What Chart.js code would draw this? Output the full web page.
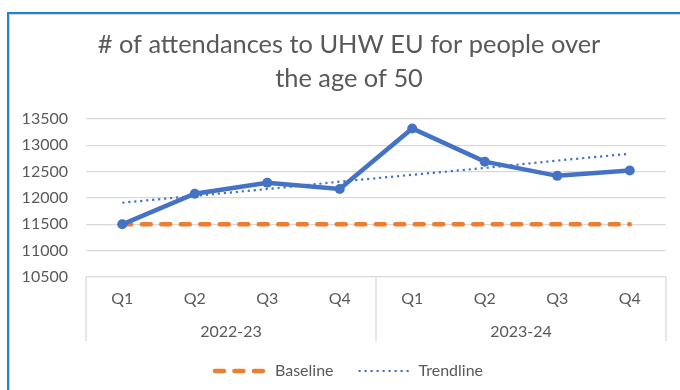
<!DOCTYPE html>
<html>
<head>
<meta charset="utf-8">
<script src="https://cdn.jsdelivr.net/npm/chart.js@4/dist/chart.umd.min.js"></script>
<style>
  html, body { margin: 0; padding: 0; background: #fff; width: 680px; height: 390px; overflow: hidden; }
  #frame { position: absolute; left: 7px; top: 12px; width: 720px; height: 420px;
           border-left: 2px solid #1b84d3; border-top: 2px solid #1b84d3; }
  #inner { position: absolute; left: 0; top: 0; right: 0; bottom: 0;
           border-left: 1px solid #d9d9d9; border-top: 1px solid #d9d9d9; }
  #c { position: absolute; left: 0; top: 0; }
</style>
</head>
<body>
<div id="frame"><div id="inner"></div></div>
<canvas id="c" width="698" height="390"></canvas>
<script>
// values
const quarters = ["Q1", "Q2", "Q3", "Q4", "Q1", "Q2", "Q3", "Q4"];
const years = ["2022-23", "2023-24"];
const attendances = [11500, 12080, 12290, 12170, 13320, 12690, 12420, 12520];
const baseline = [11500, 11500, 11500, 11500, 11500, 11500, 11500, 11500];
const trendline = [11910, 12040, 12170, 12310, 12440, 12570, 12710, 12840];
const yMin = 10500, yMax = 13500, yStep = 500;

const TEXT = "#595959";
const GRID = "#d9d9d9";
const FONT = "Lato";

// vertical separators between the year groups, under the plot
const groupLines = {
  id: "groupLines",
  afterDraw(chart) {
    const x = chart.scales.x, x2 = chart.scales.x2, ctx = chart.ctx;
    const per = quarters.length / years.length;
    const xs = [x.left, x.right];
    for (let g = 1; g < years.length; g++) {
      xs.push((x.getPixelForValue(g * per - 1) + x.getPixelForValue(g * per)) / 2);
    }
    ctx.save();
    ctx.strokeStyle = GRID;
    ctx.lineWidth = 1.3;
    xs.forEach(px => {
      ctx.beginPath();
      ctx.moveTo(px, chart.chartArea.bottom);
      ctx.lineTo(px, x2.bottom + 3);
      ctx.stroke();
    });
    ctx.restore();
  }
};

new Chart(document.getElementById("c"), {
  type: "line",
  data: {
    labels: quarters,
    datasets: [
      {
        label: "Attendances",
        data: attendances,
        borderColor: "#4472c4",
        backgroundColor: "#4472c4",
        borderWidth: 4.5,
        pointRadius: 5,
        pointBorderWidth: 0,
        pointBackgroundColor: "#4472c4",
        tension: 0,
        order: 1,
      },
      {
        label: "Baseline",
        data: baseline,
        borderColor: "#ed7d31",
        borderWidth: 4.5,
        borderDash: [9, 10.5],
        borderCapStyle: "round",
        pointRadius: 0,
        order: 2,
      },
      {
        label: "Trendline",
        data: trendline,
        borderColor: "#4472c4",
        borderWidth: 2.2,
        borderDash: [2.2, 3.8],
        borderCapStyle: "butt",
        pointRadius: 0,
        order: 0,
      },
    ],
  },
  options: {
    responsive: false,
    animation: false,
    layout: { padding: { left: 0, right: 0, top: 0, bottom: 1 } },
    plugins: {
      title: {
        display: true,
        text: ["# of attendances to UHW EU for people over", "the age of 50"],
        color: TEXT,
        font: { family: FONT, size: 25.4, weight: "normal", lineHeight: 1.33 },
        padding: { top: 28, bottom: 23.4 },
      },
      legend: {
        position: "bottom",
        labels: {
          color: TEXT,
          font: { family: FONT, size: 16 },
          usePointStyle: true,
          pointStyleWidth: 52,
          padding: 25,
          generateLabels: (chart) => chart.data.datasets
            .map((ds, i) => ({
              text: ds.label,
              datasetIndex: i,
              strokeStyle: ds.borderColor,
              fillStyle: "rgba(0,0,0,0)",
              lineWidth: ds.borderWidth,
              lineDash: ds.borderDash,
              lineCap: ds.borderCapStyle,
              pointStyle: "line",
              fontColor: TEXT,
              hidden: false,
            }))
            .filter(l => l.text !== "Attendances"),
        },
      },
      tooltip: { enabled: false },
    },
    scales: {
      x: {
        type: "category",
        offset: true,
        grid: { display: false, drawTicks: false },
        border: { display: false },
        ticks: { color: TEXT, font: { family: FONT, size: 16 }, padding: 12, maxRotation: 0, autoSkip: false },
        afterFit: (s) => { s.height = 40; },
      },
      x2: {
        type: "category",
        position: "bottom",
        labels: years,
        offset: true,
        grid: { display: false, drawTicks: false },
        border: { display: false },
        ticks: { color: TEXT, font: { family: FONT, size: 16 }, padding: 5, maxRotation: 0 },
        afterFit: (s) => { s.height = 21; },
      },
      y: {
        min: yMin,
        max: yMax,
        ticks: { stepSize: yStep, color: TEXT, font: { family: FONT, size: 16 }, padding: 18,
                 callback: (v) => String(v) },
        grid: { color: GRID, lineWidth: 1.3, drawTicks: false },
        border: { display: false },
        afterFit: (s) => { s.width = 86; },
      },
      // empty right-hand strip so the title and legend centre like the original
      yPad: {
        position: "right",
        min: yMin,
        max: yMax,
        ticks: { display: false },
        grid: { display: false, drawTicks: false },
        border: { display: false },
        afterFit: (s) => { s.width = 32; },
      },
    },
  },
  plugins: [groupLines],
});
</script>
</body>
</html>
